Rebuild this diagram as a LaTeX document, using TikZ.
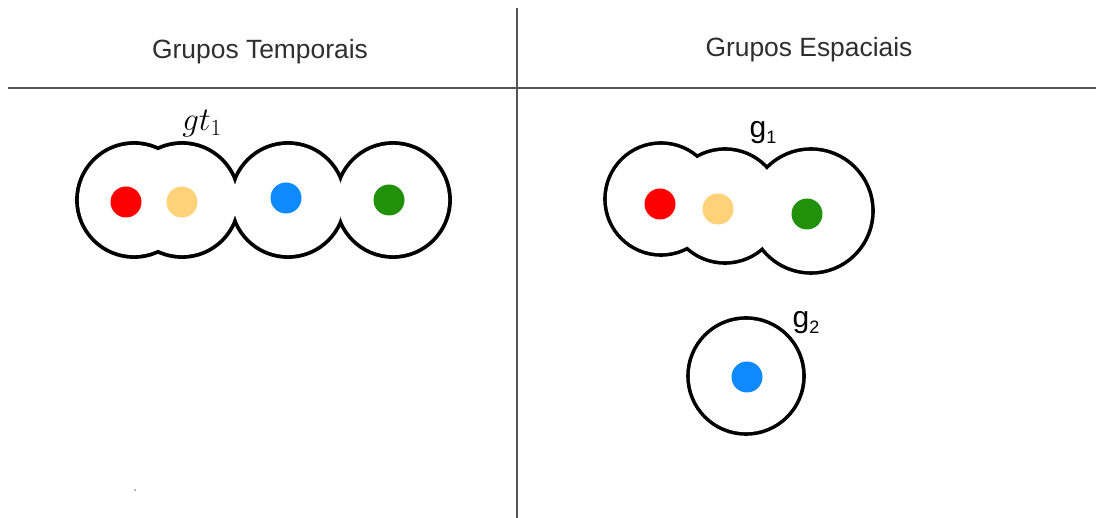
\RequirePackage{fix-cm}
\documentclass[tikz,border=0pt]{standalone}
\usepackage{fontspec}
\setmainfont{Liberation Sans}
\definecolor{cred}{HTML}{FF0000}
\definecolor{cyellow}{HTML}{FFD27A}
\definecolor{cblue}{HTML}{0D8AFF}
\definecolor{cgreen}{HTML}{209109}
\definecolor{ctitle}{HTML}{2E2E2E}
\definecolor{cline}{HTML}{555555}
\begin{document}
\begin{tikzpicture}[x=1pt,y=-1pt,
  dot/.style={circle,inner sep=0pt,minimum size=31pt,draw=none},
  title/.style={text=ctitle,font=\fontsize{26.4}{30}\selectfont,inner sep=0pt},
  lbl/.style={inner sep=0pt},
  sep/.style={draw=cline,line width=2pt}]
\useasboundingbox (0,0) rectangle (1096,518);
% separators
\coordinate (vtop) at (517,8);
\coordinate (vbot) at (517,518);
\coordinate (hl) at (8,88);
\coordinate (hr) at (1096,88);
\draw[sep] (vtop) -- (vbot);
\draw[sep] (hl) -- (hr);
% titles
\node[title] (t1) at (260,52) {Grupos Temporais};
\node[title] (t2) at (809,50) {Grupos Espaciais};
% left blob (union of circles)
\foreach \cx/\cy/\r in {134/200/57,182/200/57,288/200/57,393/200/57}
  \fill[black] (\cx,\cy) circle[radius=\r pt+1.9pt];
\foreach \cx/\cy/\r in {134/200/57,182/200/57,288/200/57,393/200/57}
  \fill[white] (\cx,\cy) circle[radius=\r pt-1.9pt];
% right blob g1
\foreach \cx/\cy/\r in {661/199/56,725/206/57,811/211/62}
  \fill[black] (\cx,\cy) circle[radius=\r pt+1.8pt];
\foreach \cx/\cy/\r in {661/199/56,725/206/57,811/211/62}
  \fill[white] (\cx,\cy) circle[radius=\r pt-1.8pt];
% g2 circle
\fill[black] (746,376) circle[radius=59.8pt];
\fill[white] (746,376) circle[radius=56.2pt];
% dots
\node[dot,fill=cred] (lr) at (126,202) {};
\node[dot,fill=cyellow] (ly) at (182,202) {};
\node[dot,fill=cblue] (lb) at (286,198) {};
\node[dot,fill=cgreen] (lg) at (389,200) {};
\node[dot,fill=cred] (rr) at (660,204) {};
\node[dot,fill=cyellow] (ry) at (718,209) {};
\node[dot,fill=cgreen] (rg) at (807,214) {};
\node[dot,fill=cblue] (rb) at (747,377) {};
% labels
\node[lbl] (gt1) at (202,124) {\fontsize{33}{36}\selectfont$gt_1$};
\node[lbl] (g1) at (763,133) {\fontsize{30}{32}\selectfont g\raisebox{-6pt}{\fontsize{18}{19}\selectfont 1}};
\node[lbl] (g2) at (806,323) {\fontsize{30}{32}\selectfont g\raisebox{-6pt}{\fontsize{18}{19}\selectfont 2}};
% stray speck
\fill[black!45] (135,490) circle[radius=1pt];
\end{tikzpicture}
\end{document}
